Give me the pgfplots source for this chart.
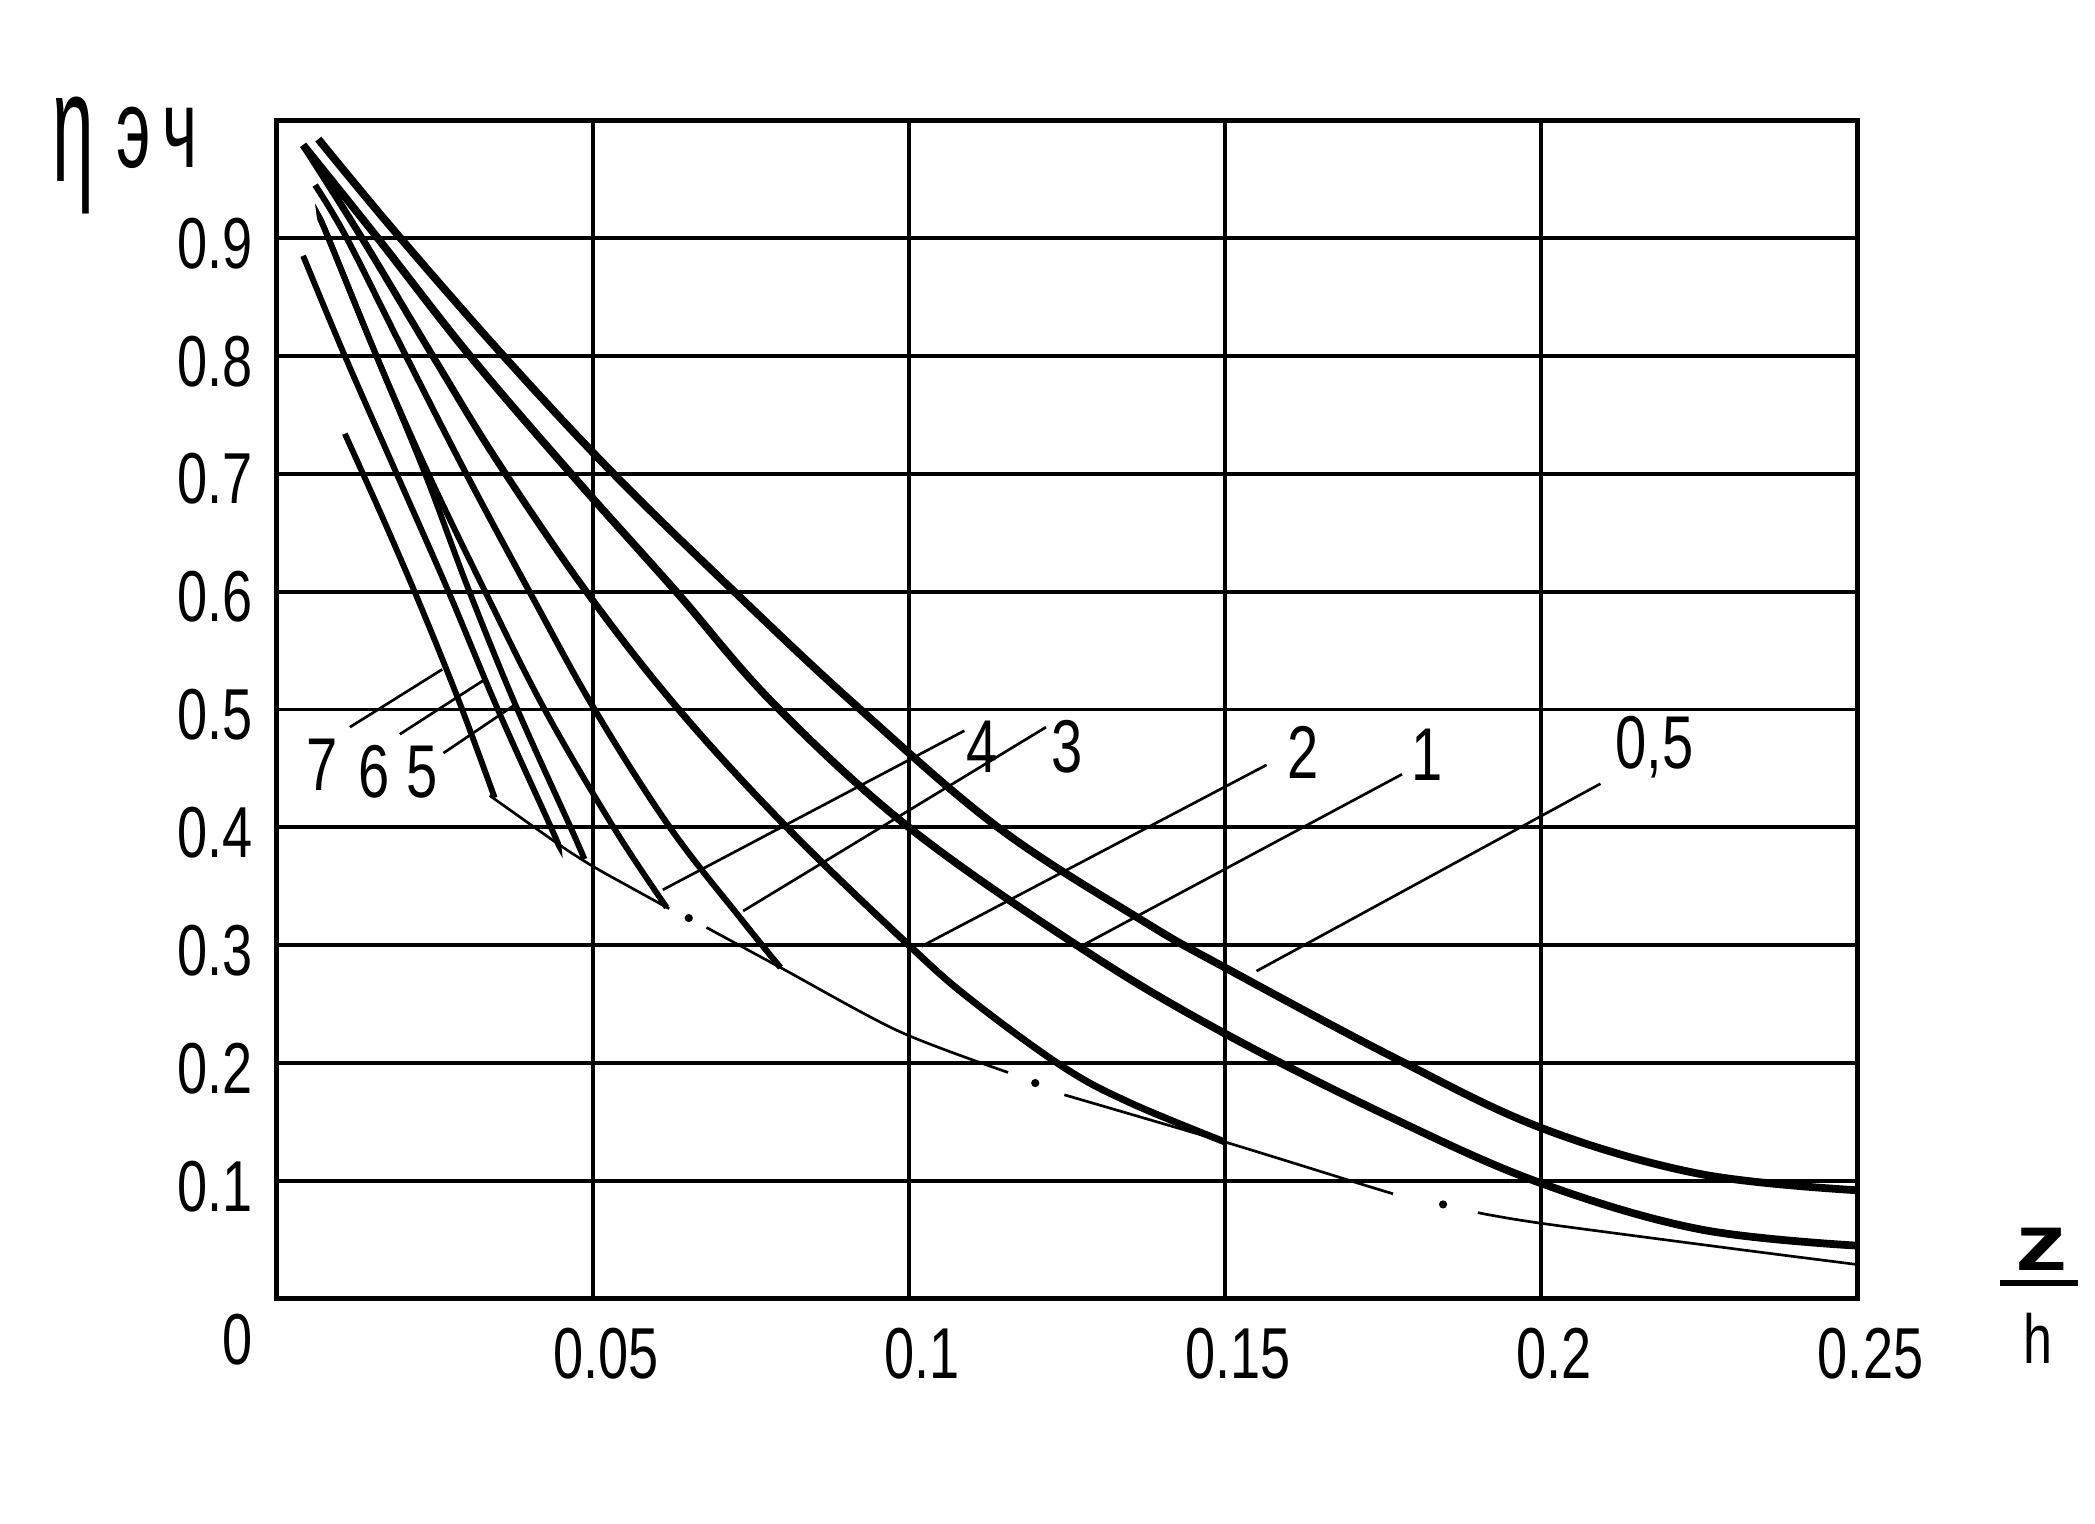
\documentclass[border=0pt]{standalone}
\usepackage{fontspec}
\setmainfont{Liberation Sans}
\newfontfamily\drafting{Liberation Sans}[FakeStretch=0.75]
\newfontfamily\cyr{Liberation Sans}[FakeStretch=0.6]
\usepackage{graphicx}
\usepackage{pgfplots}
\pgfplotsset{compat=1.18}
\begin{document}
\begin{tikzpicture}
\useasboundingbox (-51.75pt,-42pt) rectangle (340.25pt,243pt);
\begin{axis}[
  at={(0pt,0pt)}, anchor=south west, scale only axis,
  width=295.75pt, height=220.5pt,
  xmin=0, xmax=0.25, ymin=0, ymax=1,
  xtick={0.05,0.1,0.15,0.2,0.25},
  xticklabels={0.05,0.1,0.15,0.2,0.25},
  ytick={0.1,0.2,0.3,0.4,0.5,0.6,0.7,0.8,0.9},
  yticklabels={0.1,0.2,0.3,0.4,0.5,0.6,0.7,0.8,0.9},
  grid=major, major grid style={black, line width=0.7pt},
  axis line style={black, line width=1pt},
  major tick length=0pt,
  tick label style={font=\drafting\fontsize{13.5}{14}\selectfont},
  /pgf/number format/assume math mode=true,
  xticklabel style={anchor=north, xshift=2.5pt, yshift=-2pt},
  yticklabel style={anchor=east, xshift=-1pt, yshift=-1pt},
  clip=false,
]
% curve 0,5
\addplot[black, line width=1.45pt, smooth, tension=0.6] coordinates {
(0.0066,0.984)(0.0188,0.905)(0.0359,0.800)(0.0533,0.700)(0.0724,0.600)(0.0913,0.505)(0.1141,0.400)(0.1372,0.320)(0.1500,0.281)(0.1766,0.205)(0.2000,0.145)(0.2250,0.106)(0.2500,0.092)};
% curve 1
\addplot[black, line width=1.45pt, smooth, tension=0.6] coordinates {
(0.0042,0.979)(0.0160,0.900)(0.0306,0.800)(0.0474,0.695)(0.0632,0.600)(0.0786,0.505)(0.1000,0.400)(0.1277,0.296)(0.1500,0.225)(0.1770,0.152)(0.2000,0.098)(0.2250,0.059)(0.2500,0.045)};
% curve 2
\addplot[black, line width=1.3pt, smooth, tension=0.6] coordinates {
(0.0042,0.979)(0.0135,0.900)(0.0247,0.800)(0.0350,0.710)(0.0490,0.600)(0.0636,0.500)(0.0807,0.400)(0.1000,0.300)(0.1100,0.253)(0.1246,0.196)(0.1351,0.166)(0.1500,0.133)};
% curve 3
\addplot[black, line width=1.15pt, smooth, tension=0.6] coordinates {
(0.0061,0.945)(0.0111,0.900)(0.0200,0.805)(0.0300,0.700)(0.0400,0.600)(0.0503,0.500)(0.0622,0.400)(0.0735,0.322)(0.0797,0.281)};
% curve 4
\addplot[black, line width=1.1pt, smooth, tension=0.6] coordinates {
(0.0069,0.916)(0.0082,0.900)(0.0158,0.800)(0.0240,0.700)(0.0330,0.600)(0.0424,0.500)(0.0533,0.400)(0.0617,0.332)};
% curve 5
\addplot[black, line width=1.1pt, smooth, tension=0.6] coordinates {
(0.0069,0.916)(0.0082,0.900)(0.0158,0.800)(0.0235,0.700)(0.0305,0.600)(0.0381,0.500)(0.0465,0.400)(0.0487,0.373)};
% curve 6
\addplot[black, line width=1.1pt, smooth, tension=0.6] coordinates {
(0.0042,0.885)(0.0108,0.800)(0.0190,0.700)(0.0272,0.600)(0.0350,0.500)(0.0434,0.400)(0.0445,0.386)};
% curve 7
\addplot[black, line width=1.1pt, smooth, tension=0.6] coordinates {
(0.0108,0.734)(0.0170,0.660)(0.0230,0.585)(0.0290,0.505)(0.0345,0.425)};
% envelope (thin, broken)
\addplot[black, line width=0.5pt, smooth] coordinates {(0.0337,0.427)(0.0445,0.386)(0.0500,0.367)(0.0560,0.349)(0.0621,0.331)};
\addplot[black, line width=0.5pt, smooth] coordinates {(0.0680,0.315)(0.0797,0.281)(0.0984,0.227)(0.1157,0.192)};
\addplot[black, line width=0.5pt, smooth] coordinates {(0.1246,0.173)(0.1500,0.133)(0.1717,0.097)(0.1766,0.089)};
\addplot[black, line width=0.5pt, smooth] coordinates {(0.1900,0.073)(0.2000,0.064)(0.2310,0.042)(0.2500,0.029)};
\addplot[black, only marks, mark=*, mark size=0.55pt] coordinates {(0.0652,0.323)(0.1200,0.183)(0.1845,0.080)};
% leader lines
\addplot[black, line width=0.5pt] coordinates {(0.0116,0.485)(0.0262,0.534)};
\addplot[black, line width=0.5pt] coordinates {(0.0195,0.479)(0.0328,0.525)};
\addplot[black, line width=0.5pt] coordinates {(0.0264,0.463)(0.0377,0.504)};
\addplot[black, line width=0.5pt] coordinates {(0.0611,0.347)(0.1088,0.482)};
\addplot[black, line width=0.5pt] coordinates {(0.0738,0.329)(0.1217,0.485)};
\addplot[black, line width=0.5pt] coordinates {(0.1020,0.299)(0.1566,0.453)};
\addplot[black, line width=0.5pt] coordinates {(0.1279,0.301)(0.1780,0.445)};
\addplot[black, line width=0.5pt] coordinates {(0.1550,0.278)(0.2094,0.437)};
% curve labels
\begin{scope}[every node/.style={font=\drafting\fontsize{14}{14}\selectfont, inner sep=0pt}]
\node at (axis cs:0.0072,0.453) {7};
\node at (axis cs:0.0154,0.447) {6};
\node at (axis cs:0.0230,0.447) {5};
\node at (axis cs:0.1116,0.468) {4};
\node at (axis cs:0.1251,0.468) {3};
\node at (axis cs:0.1623,0.464) {2};
\node at (axis cs:0.1820,0.462) {1};
\node at (axis cs:0.2179,0.468) {0,5};
\end{scope}
\end{axis}
% origin label
\node[font=\drafting\fontsize{13.5}{14}\selectfont, inner sep=0pt] at (-7.25pt,-7.75pt) {0};
% y-axis label
\node[inner sep=0pt] at (-38pt,214pt) {\scalebox{1}[2.1]{\fontsize{14}{14}\selectfont η}};
\node[font=\cyr\fontsize{21}{21}\selectfont, inner sep=0pt] at (-26.75pt,217.25pt) {э};
\node[font=\cyr\fontsize{21}{21}\selectfont, inner sep=0pt] at (-18pt,217.25pt) {ч};
% x-axis label z/h
\node[inner sep=0pt] at (330.25pt,9.25pt) {\scalebox{1.3}[1]{\fontsize{15}{15}\selectfont\bfseries z}};
\draw[line width=1.1pt] (322.5pt,3pt) -- (337pt,3pt);
\node[font=\drafting\fontsize{13}{13}\selectfont, inner sep=0pt] at (329.5pt,-7.5pt) {h};
\end{tikzpicture}
\end{document}
